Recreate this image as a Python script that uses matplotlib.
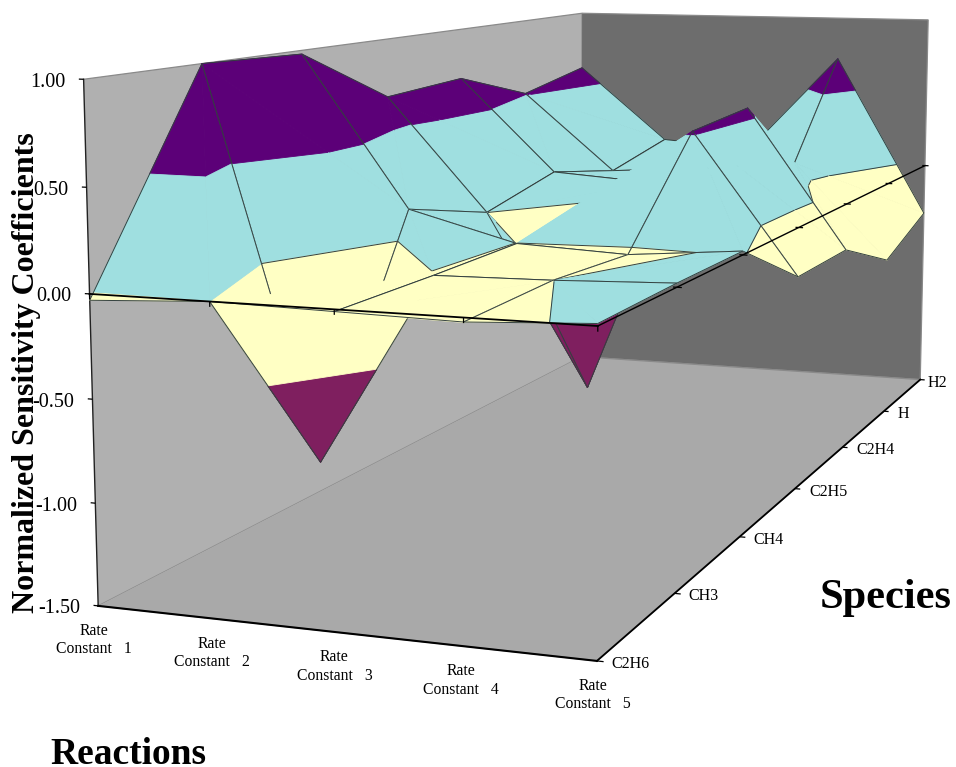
import numpy as np
import matplotlib
matplotlib.use("Agg")
import matplotlib.pyplot as plt
from mpl_toolkits.mplot3d import proj3d
from mpl_toolkits.mplot3d.art3d import Poly3DCollection, Line3DCollection

W, H = 956, 767

# --- data ---
reactions = ["Rate\nConstant   1", "Rate\nConstant   2", "Rate\nConstant   3", "Rate\nConstant   4", "Rate\nConstant   5"]
species = ["C2H6", "CH3", "CH4", "C2H5", "C2H4", "H", "H2"]
z_ticks = [-1.5, -1.0, -0.5, 0.0, 0.5, 1.0]
rk1 = [-0.03, 1.00, 0.98, 0.66, 0.69, 0.51, 0.61]
rk2 = [0.00, -1.00, 0.155, 0.001, 0.12, 0.01, 0.115]
rk3 = [-0.01, -0.01, -0.002, -1.00, 0.08, 0.05, 0.07]
rk4 = [-0.02, -0.0003, -0.03, 0.52, 0.56, 0.11, 0.72]
rk5 = [0.011, 0.02, 0.02, -0.28, -0.28, -0.50, -0.33]
Z = np.array([rk1, rk2, rk3, rk4, rk5])
bands = [(-1.5, -0.5, "#7f1f5f"), (-0.5, 0.0, "#ffffc4"), (0.0, 0.5, "#9fdfe0"), (0.5, 1.0, "#5c0078")]

plt.rcParams["font.family"] = ["Liberation Serif", "DejaVu Serif"]
fig = plt.figure(figsize=(W / 100, H / 100), dpi=100)

# camera fitted against the wall corners
L, T, S = -74.11, -366.77, 1288.84
ax = fig.add_axes([L / W, (H - T - S) / H, S / W, S / H], projection="3d")
ax.set_xlim(1, 5)
ax.set_ylim(1, 7)
ax.set_zlim(-1.5, 1.0)
ax.view_init(elev=8.418, azim=-70.494, roll=-0.120)
ax.set_proj_type("persp", focal_length=0.3564)
ax.set_box_aspect((1.0034, 2.7268, 1.0))
ax.computed_zorder = False
ax.grid(False)
ax.patch.set_alpha(0)

ax.xaxis.set_pane_color("#b0b0b0")
ax.yaxis.set_pane_color("#6d6d6d")
ax.zaxis.set_pane_color("#a9a9a9")
for axis in (ax.xaxis, ax.yaxis, ax.zaxis):
    axis.pane.set_edgecolor("#8a8a8a")
    axis.pane.set_linewidth(0.9)
    axis.set_ticks([])
    axis.line.set_color((0, 0, 0, 0))

M = ax.get_proj()


def clip(poly, lo, hi):
    for sign, lev in ((1, lo), (-1, hi)):
        out = []
        for a, b in zip(poly, poly[1:] + poly[:1]):
            da, db = sign * (a[2] - lev), sign * (b[2] - lev)
            if da >= 0:
                out.append(a)
            if da * db < 0:
                out.append(tuple(np.array(a) + (np.array(b) - np.array(a)) * da / (da - db)))
        poly = out
        if not poly:
            break
    return poly


def depth(tri):
    xs, ys, zs = zip(*tri)
    return np.mean(proj3d.proj_transform(np.array(xs, float), np.array(ys, float), np.array(zs, float), M)[2])


# --- surface, painted cell by cell from the back ---
nx, ny = Z.shape
order = 10
for j in range(ny - 2, -1, -1):
    for i in range(nx - 1):
        c00 = (i + 1, j + 1, Z[i, j])
        c10 = (i + 2, j + 1, Z[i + 1, j])
        c11 = (i + 2, j + 2, Z[i + 1, j + 1])
        c01 = (i + 1, j + 2, Z[i, j + 1])
        # the fold runs along the diagonal that misses the lowest corner
        low = min((c00, c10, c11, c01), key=lambda v: v[2])
        if low is c00 or low is c11:
            tris = [[c00, c10, c01], [c10, c11, c01]]
        else:
            tris = [[c00, c10, c11], [c00, c11, c01]]
        for tri in sorted(tris, key=depth, reverse=True):
            polys, cols = [], []
            for lo, hi, col in bands:
                pg = clip(list(tri), lo, hi)
                if len(pg) >= 3:
                    polys.append(pg)
                    cols.append(col)
            ax.add_collection3d(Poly3DCollection(polys, facecolors=cols, edgecolors=cols, linewidths=0.6, zorder=order))
            pts = []
            for a, b in zip(tri, tri[1:] + tri[:1]):
                if a[2] * b[2] < 0:
                    pts.append(tuple(np.array(a) + (np.array(b) - np.array(a)) * a[2] / (a[2] - b[2])))
            if len(pts) == 2:
                ax.add_collection3d(Line3DCollection([pts], colors="#33403f", linewidths=0.7, zorder=order + 0.5))
            order += 1
        segs = [[c00, c10], [c10, c11], [c11, c01], [c01, c00]]
        # the original leaves these edges around C2H4/H at rate constant 4 undrawn
        if (i, j) == (3, 5):
            segs = [[c10, c11], [c11, c01], [c01, c00]]
        if (i, j) == (3, 4):
            segs = [[c00, c10], [c10, c11]]
        if (i, j) == (2, 4):
            segs = [[c00, c10], [c11, c01], [c01, c00]]
        ax.add_collection3d(Line3DCollection(segs, colors="#33403f", linewidths=0.7, zorder=order))
        order += 1

# --- axes: black edges and the category lines at zero ---
ax.plot([1, 1], [1, 1], [-1.5, 1.0], color="#222222", lw=1.0, zorder=5)
ax.plot([1, 5], [1, 1], [-1.5, -1.5], color="black", lw=1.5, zorder=5)
ax.plot([5, 5], [1, 7], [-1.5, -1.5], color="black", lw=1.3, zorder=5)
ax.plot([1, 5], [1, 1], [0, 0], color="black", lw=1.3, zorder=order)
ax.plot([5, 5], [1, 7], [0, 0], color="black", lw=1.0, zorder=order)

ticks = [[(0.96, 1, v), (1, 1, v)] for v in z_ticks]
ticks += [[(5, k + 1, -1.5), (5.05, k + 1, -1.5)] for k in range(len(species))]
ticks += [[(k + 1, 1, 0), (k + 1, 1, -0.025)] for k in range(len(reactions))]
ticks += [[(4.97, k + 1, 0), (5.04, k + 1, 0)] for k in range(1, len(species))]
ax.add_collection3d(Line3DCollection(ticks, colors="black", linewidths=0.9, zorder=order + 1))


def label(txt, xyz, dx, dy, **kw):
    xp, yp, _ = proj3d.proj_transform(*xyz, M)
    ax.annotate(txt, xy=(xp, yp), xytext=(dx, dy), textcoords="offset pixels", annotation_clip=False, va="center", **kw)


for k, name in enumerate(reactions):
    label(name, (k + 1, 1, -1.5), -4, -34, ha="center", fontsize=11.3, multialignment="center")
for k, name in enumerate(species):
    label(name, (5, k + 1, -1.5), 7 if name == "H2" else 14, -3, ha="left", fontsize=11.5)
for v in z_ticks:
    label("%.2f" % v, (1, 1, v), -18, -3, ha="right", fontsize=14.5)

fig.text(27 / W, 1 - 373 / H, "Normalized Sensitivity Coefficients", rotation=90, ha="center", va="center", fontsize=23, fontweight="bold")
fig.text(128 / W, 1 - 755 / H, "Reactions", ha="center", va="center", fontsize=27, fontweight="bold")
fig.text(886 / W, 1 - 598 / H, "Species", ha="center", va="center", fontsize=30.5, fontweight="bold")
fig.savefig("out.png", dpi=100)
